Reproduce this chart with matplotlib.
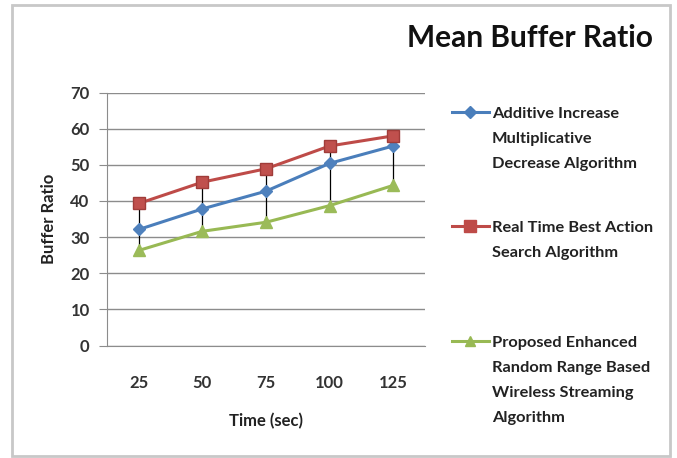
import matplotlib.pyplot as plt
from matplotlib.lines import Line2D
from matplotlib.patches import Rectangle

plt.rcParams['font.family'] = ['Lato', 'DejaVu Sans']

times = ['25', '50', '75', '100', '125']
aimd = [32.1, 37.8, 42.7, 50.4, 55.2]
rtbas = [39.3, 45.2, 48.9, 55.2, 58.0]
proposed = [26.3, 31.6, 34.1, 38.7, 44.3]

labels = ['Additive Increase\nMultiplicative\nDecrease Algorithm',
          'Real Time Best Action\nSearch Algorithm',
          'Proposed Enhanced\nRandom Range Based\nWireless Streaming\nAlgorithm']

fig = plt.figure(figsize=(6.77, 4.58), dpi=100)
ax = fig.add_axes([107 / 677, 1 - 345.5 / 458, 318 / 677, 253 / 458])

xs = list(range(len(times)))
# high-low lines
for i in xs:
    vals = [aimd[i], rtbas[i], proposed[i]]
    ax.plot([i, i], [min(vals), max(vals)], color='black', lw=0.9, zorder=2)

ax.plot(xs, aimd, color='#4A7EBB', lw=2.2, marker='D', ms=6, mfc='#4F81BD', mec='#4F81BD', zorder=3)
ax.plot(xs, rtbas, color='#BE4B48', lw=2.2, marker='s', ms=8.5, mfc='#C0504D', mec='#A03C39', zorder=3)
ax.plot(xs, proposed, color='#98B954', lw=2.2, marker='^', ms=8, mfc='#9BBB59', mec='#9BBB59', zorder=3)

ax.set_xlim(-0.5, 4.5)
ax.set_ylim(0, 70)
ax.set_yticks(range(0, 71, 10))
ax.set_xticks(xs)
ax.set_xticklabels(times)
ax.yaxis.grid(True, color='#8c8c8c', lw=1)
ax.set_axisbelow(True)
for s in ['top', 'right']:
    ax.spines[s].set_visible(False)
ax.spines['left'].set_color('#8c8c8c')
ax.spines['bottom'].set_color('#8c8c8c')
ax.tick_params(axis='y', length=5.5, color='#8c8c8c', pad=7, labelsize=12, labelcolor='#333333')
ax.tick_params(axis='x', length=0, pad=21, labelsize=12, labelcolor='#333333')
for t in ax.get_xticklabels() + ax.get_yticklabels():
    t.set_fontweight('bold')

ax.set_xlabel('Time (sec)', fontsize=12, fontweight='bold', labelpad=16, color='#222222')
ax.set_ylabel('Buffer Ratio', fontsize=12, fontweight='bold', labelpad=10, color='#222222')

fig.text(530 / 677, 1 - 38 / 458, 'Mean Buffer Ratio', fontsize=21.5, fontweight='bold',
         ha='center', va='center', color='#111111')

# legend drawn by hand so the marker sits on the first text line
styles = [('#4A7EBB', 'D', 6), ('#BE4B48', 's', 8), ('#98B954', '^', 7.5)]
legend_y = [112, 226, 341]
for (c, m, ms), lab, y in zip(styles, labels, legend_y):
    yf = 1 - y / 458
    fig.add_artist(Line2D([452 / 677, 470 / 677, 489 / 677], [yf, yf, yf], color=c, lw=2.2,
                          marker=m, ms=ms, markevery=[1], transform=fig.transFigure))
    fig.text(492 / 677, yf + 5.5 / 458, lab, fontsize=11.8, fontweight='bold', ha='left', va='top',
             linespacing=2.02, color='#222222')

fig.add_artist(Rectangle((12 / 677, 2 / 458), 658 / 677, 451 / 458, transform=fig.transFigure,
                         fill=False, edgecolor='#c8c8c8', lw=2))

fig.savefig('out.png', dpi=100)
